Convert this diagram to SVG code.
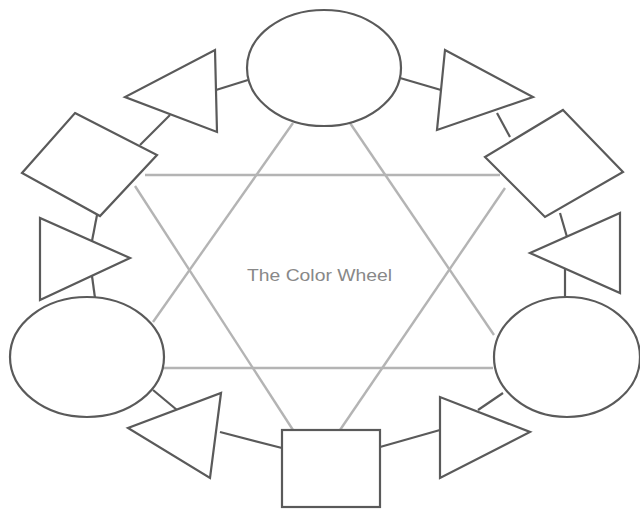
<svg xmlns="http://www.w3.org/2000/svg" width="640" height="509" viewBox="0 0 640 509">
<style>
.s{fill:#fff;stroke:#5a5a5a;stroke-width:2.2}
.c{stroke:#5a5a5a;stroke-width:2.2;fill:none}
.g{stroke:#b4b4b4;stroke-width:2.4;fill:none}
.t{font-family:"Liberation Sans",Arial,sans-serif;font-size:17px;fill:#888}
</style>
<rect width="640" height="509" fill="#fff"/>
<g id="guides">
<line class="g" x1="145" y1="175" x2="500" y2="175"/>
<line class="g" x1="163" y1="368" x2="493" y2="368"/>
<line class="g" x1="293" y1="123" x2="153" y2="322"/>
<line class="g" x1="135" y1="186" x2="293" y2="430"/>
<line class="g" x1="350" y1="123" x2="494" y2="335"/>
<line class="g" x1="505" y1="188" x2="340" y2="430"/>
</g>
<g id="connectors">
<line class="c" x1="216" y1="90" x2="248" y2="80"/>
<line class="c" x1="400" y1="78" x2="441" y2="90"/>
<line class="c" x1="140" y1="145" x2="170" y2="115"/>
<line class="c" x1="497" y1="113" x2="510" y2="137"/>
<line class="c" x1="97" y1="215" x2="92" y2="241"/>
<line class="c" x1="92" y1="276" x2="95" y2="298"/>
<line class="c" x1="560" y1="213" x2="567" y2="237"/>
<line class="c" x1="565" y1="269" x2="565" y2="298"/>
<line class="c" x1="153" y1="390" x2="177" y2="410"/>
<line class="c" x1="220" y1="432" x2="282" y2="448"/>
<line class="c" x1="380" y1="447" x2="440" y2="430"/>
<line class="c" x1="478" y1="410" x2="503" y2="393"/>
</g>
<g id="ellipse-top"><ellipse class="s" cx="324" cy="68" rx="77" ry="58"/></g>
<g id="ellipse-left"><ellipse class="s" cx="87" cy="357" rx="77" ry="60"/></g>
<g id="ellipse-right"><ellipse class="s" cx="567" cy="357" rx="73" ry="60"/></g>
<g id="square-bottom"><rect class="s" x="282" y="430" width="98" height="77"/></g>
<g id="tri-tl"><polygon class="s" points="215,50 217,132 125,97"/></g>
<g id="tri-tr"><polygon class="s" points="445,50 437,130 533,97"/></g>
<g id="tri-ml"><polygon class="s" points="40,218 40,300 130,258"/></g>
<g id="tri-mr"><polygon class="s" points="620,213 620,293 530,253"/></g>
<g id="tri-bl"><polygon class="s" points="221,393 210,478 128,428"/></g>
<g id="tri-br"><polygon class="s" points="440,397 440,478 530,432"/></g>
<g id="diamond-left"><polygon class="s" points="75,113 157,155 100,216 22,173"/></g>
<g id="diamond-right"><polygon class="s" points="563,110 623,172 545,217 485,157"/></g>
<g id="title"><text class="t" x="247" y="281" textLength="145" lengthAdjust="spacingAndGlyphs">The Color Wheel</text></g>
</svg>
